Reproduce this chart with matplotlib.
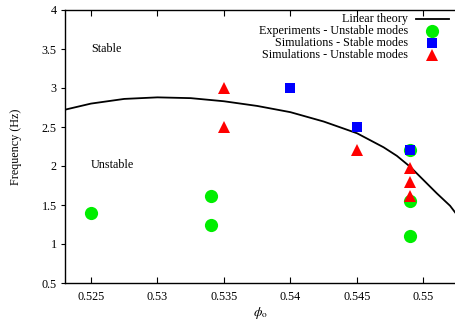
import matplotlib
matplotlib.use("Agg")
import matplotlib.pyplot as plt

plt.rcParams["font.family"] = ["Liberation Serif", "DejaVu Serif"]
plt.rcParams["mathtext.fontset"] = "stix"

# linear theory curve
theory_phi = [0.523, 0.525, 0.5275, 0.530, 0.5325, 0.535, 0.5375, 0.540,
    0.5425, 0.545, 0.547, 0.548, 0.549, 0.550, 0.551, 0.552, 0.5524]
theory_freq = [2.72, 2.80, 2.86, 2.88, 2.87, 2.83, 2.77, 2.69,
    2.57, 2.42, 2.24, 2.13, 1.99, 1.82, 1.65, 1.49, 1.40]

exp_unstable_phi = [0.525, 0.534, 0.534, 0.549, 0.549, 0.549]
exp_unstable_freq = [1.40, 1.62, 1.25, 2.20, 1.55, 1.10]

sim_stable_phi = [0.540, 0.545, 0.549]
sim_stable_freq = [3.00, 2.50, 2.20]

sim_unstable_phi = [0.535, 0.535, 0.545, 0.549, 0.549, 0.549]
sim_unstable_freq = [3.00, 2.50, 2.20, 1.97, 1.80, 1.62]

labels = ["Linear theory", "Experiments - Unstable modes",
    "Simulations - Stable modes", "Simulations - Unstable modes"]

FS = 8.7
W, H = 455, 320

fig = plt.figure(figsize=(W / 100, H / 100), dpi=100)
ax = fig.add_axes([65 / W, 1 - 283 / H, 390 / W, 273 / H])

styles = [
    dict(linestyle="-", marker="None", color="black", linewidth=1.3),
    dict(linestyle="None", marker="o", color="#00ee00", markersize=9.5, markeredgewidth=0),
    dict(linestyle="None", marker="s", color="#0000ff", markersize=6.5, markeredgewidth=0),
    dict(linestyle="None", marker="^", color="#ff0000", markersize=9, markeredgewidth=0),
]
series = [(theory_phi, theory_freq), (exp_unstable_phi, exp_unstable_freq),
    (sim_stable_phi, sim_stable_freq), (sim_unstable_phi, sim_unstable_freq)]

for (xs, ys), st in zip(series, styles):
    ax.plot(xs, ys, **st)

ax.text(0.525, 3.5, "Stable", fontsize=FS, va="center", ha="left")
ax.text(0.525, 2.01, "Unstable", fontsize=FS, va="center", ha="left")

ax.set_xlim(0.52305, 0.55237)
ax.set_ylim(0.5, 4)
ax.set_xticks([0.525, 0.53, 0.535, 0.54, 0.545, 0.55])
ax.set_xticklabels(["0.525", "0.53", "0.535", "0.54", "0.545", "0.55"])
ax.set_yticks([0.5, 1, 1.5, 2, 2.5, 3, 3.5, 4])
ax.set_yticklabels(["0.5", "1", "1.5", "2", "2.5", "3", "3.5", "4"])
ax.tick_params(axis="x", direction="in", top=True, length=4, width=0.8,
    labelsize=FS, pad=6)
ax.tick_params(axis="y", direction="out", length=3, width=0.8,
    labelsize=FS, pad=3)
ax.spines["right"].set_visible(False)
for s in ["left", "bottom", "top"]:
    ax.spines[s].set_linewidth(1)

ax.set_ylabel("Frequency (Hz)", fontsize=FS, labelpad=14)
ax.set_xlabel(r"$\phi_{\rm o}$", fontsize=FS + 1, labelpad=1)

# gnuplot-style key: right-aligned text, sample on the right
row_y = [19, 31, 43, 55]
for lab, st, py in zip(labels, styles, row_y):
    fy = 1 - py / H
    fig.text(408 / W, fy, lab, fontsize=FS, ha="right", va="center")
    if st["marker"] == "None":
        fig.add_artist(plt.Line2D([416 / W, 449 / W], [fy, fy], **st))
    else:
        fig.add_artist(plt.Line2D([432 / W], [fy], **st))

fig.savefig("out.png", dpi=100)
plt.close()
